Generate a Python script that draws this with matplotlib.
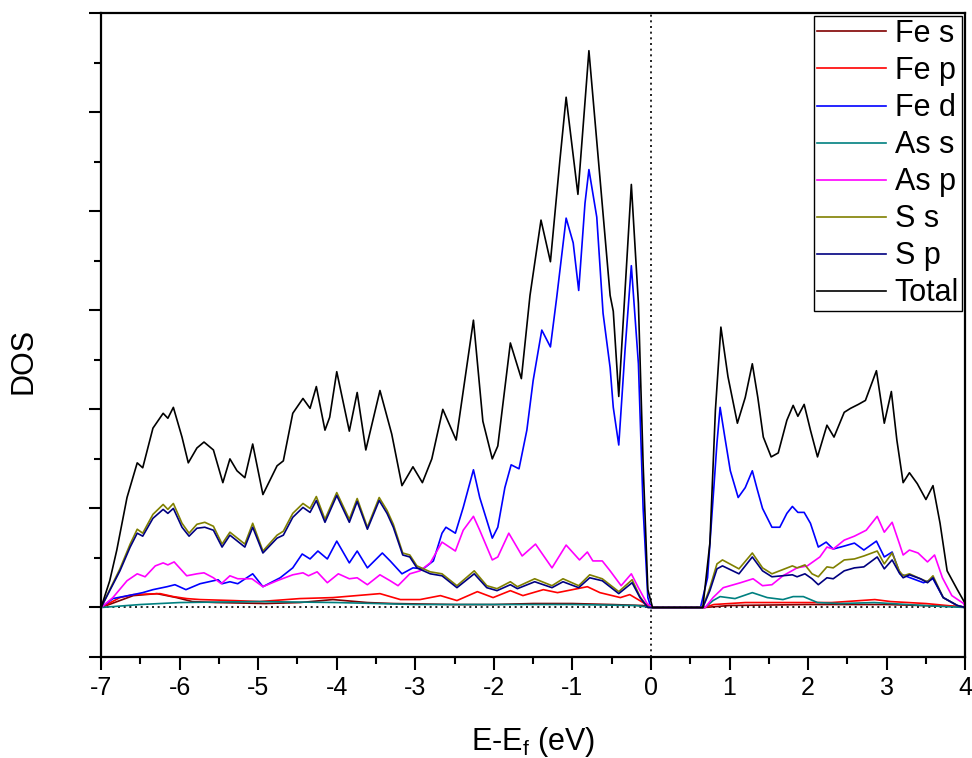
import numpy as np
import matplotlib
matplotlib.use('Agg')
import matplotlib.pyplot as plt
from matplotlib.ticker import FixedLocator, MultipleLocator

plt.rcParams['font.family'] = ['Liberation Sans', 'DejaVu Sans']
plt.rcParams['mathtext.default'] = 'regular'
plt.rcParams['axes.unicode_minus'] = False

# ---- values (energy in eV, DOS in arbitrary units) ----
tot_e = [-7.0, -6.89, -6.80, -6.67, -6.54, -6.47, -6.34, -6.21, -6.15, -6.08,
         -5.97, -5.89, -5.78, -5.69, -5.57, -5.45, -5.36, -5.27, -5.17, -5.07,
         -4.94, -4.76, -4.68, -4.56, -4.43, -4.34, -4.26, -4.15, -4.09, -4.00,
         -3.84, -3.74, -3.63, -3.45, -3.30, -3.17, -3.03, -2.91, -2.79, -2.65,
         -2.48, -2.26, -2.14, -2.02, -1.95, -1.79, -1.65, -1.54, -1.40, -1.28,
         -1.16, -1.08, -0.93, -0.79, -0.65, -0.52, -0.48, -0.41, -0.25, -0.16,
         -0.10, -0.04, 0.02, 0.66, 0.75, 0.82, 0.89, 0.98, 1.10, 1.20,
         1.29, 1.36, 1.43, 1.53, 1.62, 1.73, 1.81, 1.87, 1.95, 2.03,
         2.12, 2.24, 2.33, 2.46, 2.54, 2.64, 2.73, 2.87, 2.97, 3.06,
         3.13, 3.21, 3.29, 3.39, 3.50, 3.59, 3.68, 3.77, 3.90, 4.0]
tot_v = [0, 2.7, 5.8, 11.1, 14.6, 14.1, 18.1, 19.6, 19.1, 20.2,
         17.2, 14.6, 16.1, 16.7, 15.9, 12.6, 15.0, 13.8, 13.1, 16.5,
         11.4, 14.3, 14.8, 19.6, 21.1, 20.1, 22.3, 17.9, 19.2, 23.8,
         17.8, 21.7, 15.9, 21.9, 17.5, 12.3, 14.2, 12.6, 15.0, 20.0,
         16.9, 29.0, 18.8, 15.0, 16.3, 26.7, 23.1, 31.5, 39.1, 34.9,
         45.1, 51.5, 41.7, 56.2, 43.4, 31.5, 29.9, 21.3, 42.7, 30.7,
         14.5, 1.8, 0, 0, 6.5, 19.9, 28.3, 23.3, 18.6, 21.2,
         24.6, 21.2, 17.2, 15.2, 15.6, 18.9, 20.4, 19.3, 20.5, 17.9,
         15.2, 18.4, 17.2, 19.7, 20.1, 20.5, 20.9, 23.9, 18.6, 21.8,
         16.9, 12.6, 13.6, 12.5, 10.9, 12.3, 8.5, 3.7, 1.8, 0.4]

fed_e = [-7.0, -6.85, -6.59, -6.47, -6.34, -6.16, -6.06, -5.92, -5.74, -5.57,
         -5.51, -5.46, -5.36, -5.26, -5.07, -4.94, -4.72, -4.56, -4.44, -4.34,
         -4.24, -4.12, -4.00, -3.84, -3.74, -3.61, -3.42, -3.32, -3.17, -3.03,
         -2.90, -2.77, -2.66, -2.61, -2.49, -2.39, -2.26, -2.18, -2.02, -1.95,
         -1.86, -1.78, -1.68, -1.58, -1.50, -1.39, -1.28, -1.20, -1.08, -0.99,
         -0.92, -0.84, -0.79, -0.69, -0.61, -0.52, -0.48, -0.41, -0.33, -0.25,
         -0.16, -0.10, -0.04, 0.0, 0.63, 0.72, 0.78, 0.84, 0.88, 0.94,
         1.01, 1.11, 1.20, 1.29, 1.35, 1.42, 1.54, 1.64, 1.73, 1.80,
         1.87, 1.95, 2.03, 2.13, 2.23, 2.32, 2.46, 2.59, 2.71, 2.87,
         2.97, 3.07, 3.17, 3.30, 3.47, 3.59, 3.72, 3.90, 4.0]
fed_v = [0, 0.9, 1.3, 1.5, 1.8, 2.1, 2.3, 1.8, 2.4, 2.7,
         2.8, 2.4, 2.6, 2.4, 3.4, 2.1, 3.0, 4.0, 5.4, 4.9,
         5.7, 4.9, 6.7, 4.5, 5.7, 4.0, 5.5, 4.7, 3.4, 4.0,
         3.9, 4.7, 7.5, 8.1, 7.5, 10.1, 13.9, 11.1, 7.0, 8.1,
         12.1, 14.4, 14.0, 17.9, 22.9, 28.0, 26.3, 31.3, 39.3, 36.8,
         32.0, 40.8, 44.2, 39.4, 29.7, 24.2, 20.2, 16.4, 26.0, 34.5,
         24.6, 10.0, 1.0, 0, 0, 3.0, 9.8, 16.6, 20.2, 17.2,
         13.8, 11.1, 12.1, 13.8, 12.0, 10.0, 8.1, 8.1, 9.5, 10.2,
         9.6, 9.6, 8.5, 6.1, 6.6, 5.9, 6.2, 6.5, 5.8, 6.7,
         5.1, 5.6, 3.4, 3.0, 2.5, 2.9, 1.0, 0.2, 0]

asp_e = [-7.0, -6.85, -6.67, -6.54, -6.44, -6.31, -6.21, -6.15, -6.07, -5.99,
         -5.91, -5.78, -5.69, -5.57, -5.47, -5.36, -5.26, -5.08, -4.94, -4.76,
         -4.56, -4.43, -4.36, -4.25, -4.12, -3.98, -3.84, -3.74, -3.61, -3.45,
         -3.32, -3.22, -3.07, -2.94, -2.81, -2.66, -2.49, -2.39, -2.26, -2.18,
         -2.02, -1.95, -1.81, -1.64, -1.47, -1.26, -1.08, -0.91, -0.81, -0.74,
         -0.62, -0.52, -0.38, -0.25, -0.16, -0.05, 0.02, 0.69, 0.79, 0.92,
         1.14, 1.30, 1.42, 1.54, 1.68, 1.86, 1.99, 2.15, 2.24, 2.32,
         2.46, 2.59, 2.74, 2.88, 2.97, 3.07, 3.16, 3.21, 3.29, 3.40,
         3.52, 3.61, 3.71, 3.83, 3.98, 4.0]
asp_v = [0, 1.0, 2.7, 3.4, 3.1, 4.2, 4.5, 4.3, 4.6, 3.9,
         3.2, 3.4, 3.5, 3.0, 2.4, 3.2, 2.9, 2.9, 2.1, 2.7,
         3.3, 3.5, 3.2, 3.6, 2.5, 3.4, 2.9, 3.0, 2.3, 3.3,
         2.7, 2.2, 3.4, 3.7, 4.5, 6.6, 5.7, 7.8, 9.2, 7.8,
         4.8, 5.1, 7.5, 5.2, 6.4, 4.0, 6.3, 4.8, 5.6, 4.7,
         4.7, 3.7, 2.2, 3.4, 2.0, 0.4, 0, 0, 1.0, 2.0,
         2.5, 2.9, 2.2, 2.3, 3.2, 4.0, 4.2, 5.1, 6.1, 5.9,
         6.8, 7.2, 7.8, 9.2, 7.6, 8.6, 6.5, 5.3, 5.8, 5.5,
         4.6, 5.3, 3.0, 1.2, 0.4, 0]

s_e = [-7.0, -6.89, -6.76, -6.63, -6.54, -6.47, -6.34, -6.21, -6.15, -6.08,
       -5.97, -5.88, -5.78, -5.68, -5.57, -5.46, -5.36, -5.17, -5.07, -4.94,
       -4.76, -4.68, -4.56, -4.43, -4.34, -4.26, -4.15, -4.00, -3.84, -3.74,
       -3.61, -3.46, -3.36, -3.28, -3.16, -3.07, -2.98, -2.81, -2.66, -2.47,
       -2.25, -2.09, -1.96, -1.79, -1.70, -1.48, -1.26, -1.12, -0.92, -0.78,
       -0.62, -0.41, -0.24, -0.14, -0.04, 0.66, 0.75, 0.84, 0.91, 1.12,
       1.29, 1.42, 1.54, 1.67, 1.80, 1.86, 1.96, 2.05, 2.13, 2.24,
       2.32, 2.46, 2.59, 2.71, 2.88, 2.97, 3.07, 3.16, 3.21, 3.29,
       3.43, 3.52, 3.59, 3.72, 3.90, 4.0]
sp_v = [0, 1.7, 3.7, 6.1, 7.5, 7.2, 9.0, 9.9, 9.5, 10.0,
        8.1, 7.2, 8.0, 8.1, 7.8, 6.1, 7.3, 6.1, 8.1, 5.5,
        7.0, 7.3, 9.1, 10.1, 9.6, 10.8, 8.6, 11.3, 8.6, 10.7,
        7.9, 10.8, 9.5, 8.1, 5.3, 5.1, 4.0, 3.4, 3.2, 2.0,
        3.4, 2.0, 1.7, 2.3, 1.9, 2.6, 2.0, 2.6, 2.0, 3.0,
        2.7, 1.4, 2.5, 1.0, 0, 0, 1.7, 3.9, 4.2, 3.4,
        5.1, 3.7, 3.1, 3.2, 3.3, 3.1, 3.4, 2.9, 2.3, 3.0,
        2.9, 3.7, 4.0, 4.1, 5.1, 3.9, 4.8, 3.5, 3.0, 3.3,
        2.9, 2.5, 3.0, 1.0, 0.2, 0]
ss_v = [0, 1.8, 3.9, 6.4, 7.9, 7.5, 9.4, 10.4, 9.9, 10.5,
        8.5, 7.5, 8.4, 8.6, 8.2, 6.4, 7.6, 6.4, 8.5, 5.7,
        7.3, 7.7, 9.5, 10.5, 10.0, 11.2, 8.9, 11.6, 8.9, 11.0,
        8.1, 11.1, 9.8, 8.4, 5.5, 5.3, 4.2, 3.6, 3.4, 2.2,
        3.7, 2.2, 1.9, 2.6, 2.1, 2.9, 2.2, 2.9, 2.2, 3.3,
        2.9, 1.6, 2.8, 1.1, 0, 0, 2.0, 4.4, 4.8, 3.9,
        5.5, 4.0, 3.4, 3.8, 4.2, 4.0, 4.3, 3.4, 3.1, 4.1,
        4.0, 4.8, 4.9, 5.2, 5.7, 4.4, 5.5, 3.7, 3.2, 3.4,
        2.9, 2.6, 3.2, 1.0, 0.2, 0]

fep_e = [-7.0, -6.76, -6.59, -6.25, -6.08, -5.91, -5.74, -5.32, -4.98, -4.47,
         -4.05, -3.45, -3.19, -2.94, -2.68, -2.47, -2.21, -2.01, -1.79, -1.63,
         -1.37, -1.19, -0.81, -0.65, -0.39, -0.27, -0.10, 0.02, 0.68, 0.80,
         1.20, 1.80, 2.30, 2.85, 3.05, 3.50, 3.90, 4.0]
fep_v = [0, 1.0, 1.3, 1.4, 1.1, 0.9, 0.8, 0.7, 0.6, 0.9,
         1.0, 1.4, 0.8, 0.8, 1.2, 0.7, 1.6, 1.0, 1.7, 1.2,
         1.8, 1.5, 2.1, 1.5, 1.0, 1.3, 0.5, 0, 0, 0.3,
         0.5, 0.5, 0.5, 0.8, 0.6, 0.4, 0.1, 0]

fes_e = [-7.0, -6.59, -6.29, -6.04, -5.84, -5.54, -4.91, -4.47, -4.05, -3.61,
         -3.28, -2.50, -2.00, -1.50, -1.00, -0.50, -0.10, 0.02, 0.68, 1.00,
         2.00, 3.00, 3.90, 4.0]
fes_v = [0, 1.2, 1.4, 1.0, 0.6, 0.5, 0.4, 0.5, 0.8, 0.5,
         0.4, 0.3, 0.3, 0.4, 0.4, 0.3, 0.2, 0, 0, 0.2,
         0.3, 0.3, 0.1, 0]

ass_e = [-7.0, -6.5, -6.0, -5.0, -4.0, -3.0, -2.0, -1.0, -0.2, 0.02,
         0.69, 0.79, 0.88, 1.07, 1.29, 1.48, 1.68, 1.81, 1.94, 2.12,
         2.41, 2.84, 3.06, 3.47, 4.0]
ass_v = [0, 0.3, 0.5, 0.6, 0.5, 0.3, 0.3, 0.3, 0.2, 0,
         0, 0.7, 1.1, 0.9, 1.5, 1.0, 0.8, 1.1, 1.1, 0.5,
         0.4, 0.5, 0.4, 0.2, 0]

series = [
    ('Fe s', fes_e, fes_v, '#800000'),
    ('Fe p', fep_e, fep_v, '#ff0000'),
    ('Fe d', fed_e, fed_v, '#0000ff'),
    ('As s', ass_e, ass_v, '#008080'),
    ('As p', asp_e, asp_v, '#ff00ff'),
    ('S s', s_e, ss_v, '#808000'),
    ('S p', s_e, sp_v, '#000080'),
    ('Total', tot_e, tot_v, '#000000'),
]

fig = plt.figure(figsize=(9.72, 7.58), dpi=100)
ax = fig.add_axes([0.104, 0.1332, 0.889, 0.8496])

for name, e, v, c in series:
    ax.plot(e, v, color=c, lw=1.2, label=name, solid_joinstyle='round')

ax.axvline(0, color='black', lw=1.2, ls=(0, (1.2, 2.2)), zorder=0)
ax.axhline(0, color='black', lw=1.2, ls=(0, (1.2, 2.2)), zorder=0)

ax.set_xlim(-7, 4)
ax.set_ylim(-5, 60)
ax.xaxis.set_major_locator(MultipleLocator(1))
ax.xaxis.set_minor_locator(MultipleLocator(0.5))
ax.yaxis.set_major_locator(FixedLocator([-5, 0, 10, 20, 30, 40, 50, 60]))
ax.yaxis.set_minor_locator(FixedLocator([5, 15, 25, 35, 45, 55]))
ax.tick_params(which='both', direction='out', width=1.5, top=False, right=False)
ax.tick_params(which='major', length=9)
ax.tick_params(which='minor', length=5)
ax.tick_params(axis='x', labelsize=18, pad=5)
ax.tick_params(axis='y', labelleft=False)
for sp in ax.spines.values():
    sp.set_linewidth(1.6)

ax.set_xlabel('E-E$_{f}$ (eV)', fontsize=22, labelpad=18)
ax.set_ylabel('DOS', fontsize=22)
ax.yaxis.set_label_coords(-0.072, 0.46)

leg = ax.legend(loc='upper right', fontsize=22, frameon=True, fancybox=False,
                edgecolor='black', framealpha=1, borderaxespad=0.1,
                handlelength=2.25, handletextpad=0.3, labelspacing=0.23,
                borderpad=0.1)
leg.get_frame().set_linewidth(1.0)

fig.savefig('out.png', dpi=100)
